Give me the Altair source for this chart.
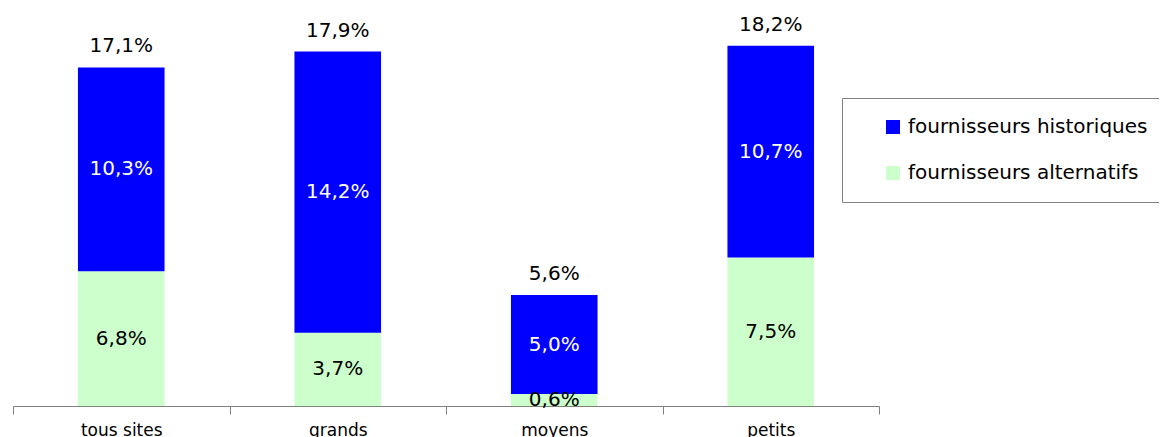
import altair as alt
import pandas as pd

categories = ["tous sites", "grands", "moyens", "petits"]
alternatifs = [6.8, 3.7, 0.6, 7.5]
historiques = [10.3, 14.2, 5.0, 10.7]
totaux = [17.1, 17.9, 5.6, 18.2]
series_names = ["fournisseurs historiques", "fournisseurs alternatifs"]

rows = []
for c, a, h in zip(categories, alternatifs, historiques):
    rows.append({"cat": c, "serie": series_names[1], "v": a, "ordre": 0, "mid": a / 2})
    rows.append({"cat": c, "serie": series_names[0], "v": h, "ordre": 1, "mid": a + h / 2})
df = pd.DataFrame(rows)
tot = pd.DataFrame({"cat": categories, "total": totaux})

FONT = "DejaVu Sans"
xenc = alt.X("cat:N", sort=categories,
             scale=alt.Scale(paddingInner=0, paddingOuter=0),
             axis=alt.Axis(title=None, labelAngle=0, tickBand="extent",
                           domainColor="#808080", tickColor="#808080", tickSize=8,
                           labelFont=FONT, labelFontSize=17, labelColor="#000000",
                           labelPadding=8, grid=False))
yscale = alt.Scale(domain=[0, 20], nice=False)

bars = alt.Chart(df).mark_bar(width=alt.RelativeBandSize(0.4)).encode(
    x=xenc,
    y=alt.Y("v:Q", stack="zero", scale=yscale, axis=None),
    color=alt.Color("serie:N", scale=alt.Scale(domain=series_names, range=["#0000FF", "#CCFFCC"]),
                    legend=alt.Legend(title=None, orient="none", legendX=829, legendY=88,
                                      symbolType="square", symbolSize=196, symbolStrokeWidth=0,
                                      labelFont=FONT, labelFontSize=20, labelColor="#000000",
                                      strokeColor="#808080", padding=19, rowPadding=26,
                                      symbolOffset=22, labelOffset=5, labelLimit=400)),
    order=alt.Order("ordre:Q"),
)

seg_text = alt.Chart(df).transform_calculate(
    lab="replace(format(datum.v, '.1f'), '.', ',') + '%'"
).mark_text(font=FONT, fontSize=20, baseline="middle").encode(
    x=alt.X("cat:N", sort=categories),
    y=alt.Y("mid:Q", scale=yscale),
    text="lab:N",
    color=alt.condition(alt.datum.serie == series_names[0], alt.value("#FFFFFF"), alt.value("#000000")),
)

tot_text = alt.Chart(tot).transform_calculate(
    lab="replace(format(datum.total, '.1f'), '.', ',') + '%'"
).mark_text(font=FONT, fontSize=20, baseline="middle", dy=-21, color="#000000").encode(
    x=alt.X("cat:N", sort=categories),
    y=alt.Y("total:Q", scale=yscale),
    text="lab:N",
)

chart = alt.layer(bars, seg_text, tot_text).properties(
    width=866, height=396, autosize="none",
    padding={"left": 5, "top": 2, "right": 280, "bottom": 40},
).configure_view(stroke=None)

chart.save("out.html", embed_options={"renderer": "svg", "actions": False})
